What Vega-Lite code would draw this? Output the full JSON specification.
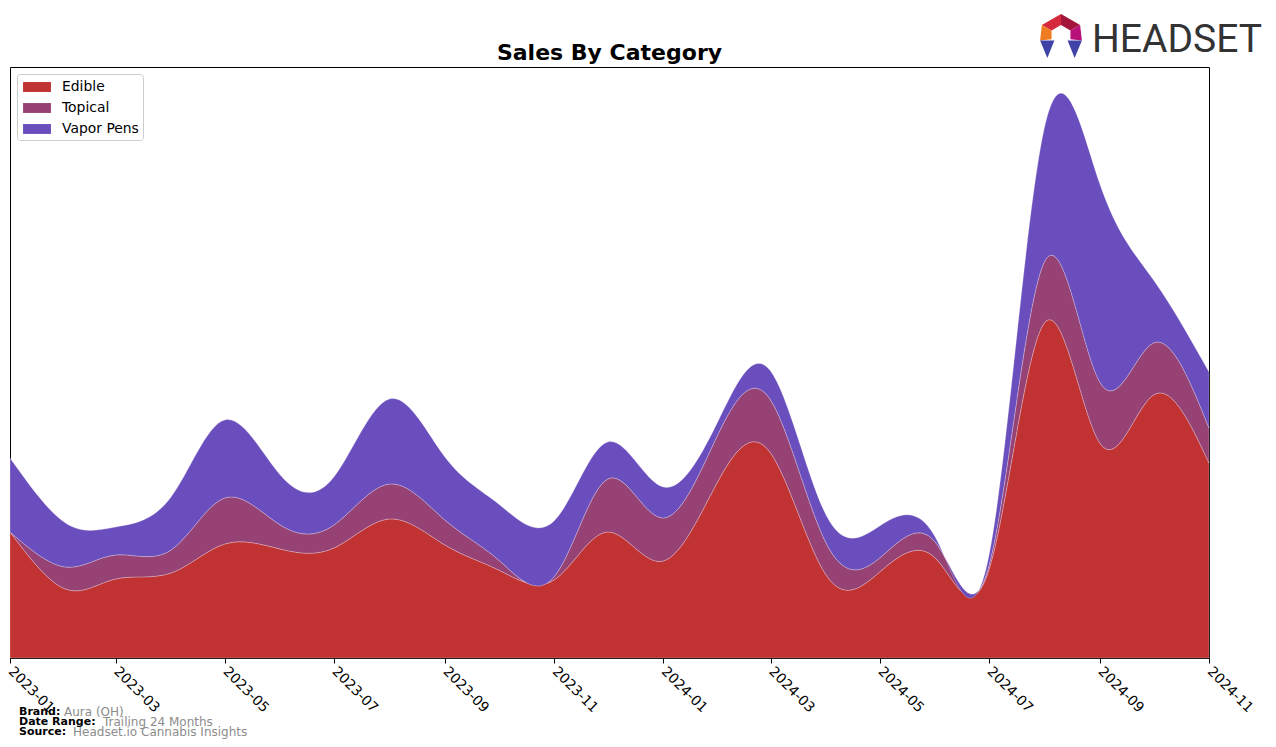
{
  "$schema": "https://vega.github.io/schema/vega-lite/v6.json",
  "width": 1199,
  "height": 591,
  "autosize": {"type": "none"},
  "padding": {"left": 10, "top": 67, "right": 67, "bottom": 89},
  "background": "white",
  "config": {"font": "DejaVu Sans", "view": {"stroke": "black", "strokeWidth": 1}},
  "title": {"text": "Sales By Category", "fontSize": 22, "fontWeight": "bold", "font": "DejaVu Sans", "color": "black", "anchor": "middle", "offset": 5, "dy": 56},
  "layer": [
    {
      "data": {"values": [
        {"date": "2023-01-01", "category": "Edible", "sales": 126},
        {"date": "2023-02-01", "category": "Edible", "sales": 69},
        {"date": "2023-03-01", "category": "Edible", "sales": 79},
        {"date": "2023-04-01", "category": "Edible", "sales": 85},
        {"date": "2023-05-01", "category": "Edible", "sales": 114},
        {"date": "2023-06-01", "category": "Edible", "sales": 109},
        {"date": "2023-07-01", "category": "Edible", "sales": 110},
        {"date": "2023-08-01", "category": "Edible", "sales": 139},
        {"date": "2023-09-01", "category": "Edible", "sales": 113},
        {"date": "2023-10-01", "category": "Edible", "sales": 88},
        {"date": "2023-11-01", "category": "Edible", "sales": 78},
        {"date": "2023-12-01", "category": "Edible", "sales": 126},
        {"date": "2024-01-01", "category": "Edible", "sales": 97},
        {"date": "2024-02-01", "category": "Edible", "sales": 178},
        {"date": "2024-03-01", "category": "Edible", "sales": 205},
        {"date": "2024-04-01", "category": "Edible", "sales": 83},
        {"date": "2024-05-01", "category": "Edible", "sales": 86},
        {"date": "2024-06-01", "category": "Edible", "sales": 100},
        {"date": "2024-07-01", "category": "Edible", "sales": 88},
        {"date": "2024-08-01", "category": "Edible", "sales": 335},
        {"date": "2024-09-01", "category": "Edible", "sales": 215},
        {"date": "2024-10-01", "category": "Edible", "sales": 263},
        {"date": "2024-11-01", "category": "Edible", "sales": 195},
        {"date": "2023-01-01", "category": "Topical", "sales": 0},
        {"date": "2023-02-01", "category": "Topical", "sales": 22},
        {"date": "2023-03-01", "category": "Topical", "sales": 24},
        {"date": "2023-04-01", "category": "Topical", "sales": 23},
        {"date": "2023-05-01", "category": "Topical", "sales": 46},
        {"date": "2023-06-01", "category": "Topical", "sales": 24},
        {"date": "2023-07-01", "category": "Topical", "sales": 23},
        {"date": "2023-08-01", "category": "Topical", "sales": 35},
        {"date": "2023-09-01", "category": "Topical", "sales": 25},
        {"date": "2023-10-01", "category": "Topical", "sales": 10},
        {"date": "2023-11-01", "category": "Topical", "sales": 3},
        {"date": "2023-12-01", "category": "Topical", "sales": 53},
        {"date": "2024-01-01", "category": "Topical", "sales": 43},
        {"date": "2024-02-01", "category": "Topical", "sales": 47},
        {"date": "2024-03-01", "category": "Topical", "sales": 53},
        {"date": "2024-04-01", "category": "Topical", "sales": 32},
        {"date": "2024-05-01", "category": "Topical", "sales": 14},
        {"date": "2024-06-01", "category": "Topical", "sales": 16},
        {"date": "2024-07-01", "category": "Topical", "sales": 4},
        {"date": "2024-08-01", "category": "Topical", "sales": 61},
        {"date": "2024-09-01", "category": "Topical", "sales": 61},
        {"date": "2024-10-01", "category": "Topical", "sales": 52},
        {"date": "2024-11-01", "category": "Topical", "sales": 35},
        {"date": "2023-01-01", "category": "Vapor Pens", "sales": 74},
        {"date": "2023-02-01", "category": "Vapor Pens", "sales": 44},
        {"date": "2023-03-01", "category": "Vapor Pens", "sales": 28},
        {"date": "2023-04-01", "category": "Vapor Pens", "sales": 53},
        {"date": "2023-05-01", "category": "Vapor Pens", "sales": 78},
        {"date": "2023-06-01", "category": "Vapor Pens", "sales": 50},
        {"date": "2023-07-01", "category": "Vapor Pens", "sales": 48},
        {"date": "2023-08-01", "category": "Vapor Pens", "sales": 85},
        {"date": "2023-09-01", "category": "Vapor Pens", "sales": 63},
        {"date": "2023-10-01", "category": "Vapor Pens", "sales": 56},
        {"date": "2023-11-01", "category": "Vapor Pens", "sales": 56},
        {"date": "2023-12-01", "category": "Vapor Pens", "sales": 37},
        {"date": "2024-01-01", "category": "Vapor Pens", "sales": 31},
        {"date": "2024-02-01", "category": "Vapor Pens", "sales": 13},
        {"date": "2024-03-01", "category": "Vapor Pens", "sales": 29},
        {"date": "2024-04-01", "category": "Vapor Pens", "sales": 28},
        {"date": "2024-05-01", "category": "Vapor Pens", "sales": 32},
        {"date": "2024-06-01", "category": "Vapor Pens", "sales": 5},
        {"date": "2024-07-01", "category": "Vapor Pens", "sales": 10},
        {"date": "2024-08-01", "category": "Vapor Pens", "sales": 134},
        {"date": "2024-09-01", "category": "Vapor Pens", "sales": 198},
        {"date": "2024-10-01", "category": "Vapor Pens", "sales": 63},
        {"date": "2024-11-01", "category": "Vapor Pens", "sales": 56}
      ]},
      "mark": {"type": "area", "interpolate": "natural", "stroke": "#ffffff", "strokeWidth": 0.7, "strokeOpacity": 0.35, "opacity": 1},
      "encoding": {
        "x": {
          "field": "date", "type": "temporal",
          "scale": {"type": "utc", "domain": [{"year": 2023, "month": 1, "date": 1, "utc": true}, {"year": 2024, "month": 11, "date": 1, "utc": true}]},
          "axis": {
            "title": null, "labelExpr": "utcFormat(datum.value, '%Y-%m')",
            "values": [
              {"year": 2023, "month": 1, "date": 1, "utc": true},
              {"year": 2023, "month": 3, "date": 1, "utc": true},
              {"year": 2023, "month": 5, "date": 1, "utc": true},
              {"year": 2023, "month": 7, "date": 1, "utc": true},
              {"year": 2023, "month": 9, "date": 1, "utc": true},
              {"year": 2023, "month": 11, "date": 1, "utc": true},
              {"year": 2024, "month": 1, "date": 1, "utc": true},
              {"year": 2024, "month": 3, "date": 1, "utc": true},
              {"year": 2024, "month": 5, "date": 1, "utc": true},
              {"year": 2024, "month": 7, "date": 1, "utc": true},
              {"year": 2024, "month": 9, "date": 1, "utc": true},
              {"year": 2024, "month": 11, "date": 1, "utc": true}
            ],
            "labelAngle": 45, "labelAlign": "left", "labelBaseline": "middle", "labelPadding": 6,
            "labelFont": "DejaVu Sans", "labelFontSize": 13.9, "labelColor": "black",
            "labelOverlap": false, "labelBound": false, "labelFlush": false,
            "domainColor": "black", "tickColor": "black", "tickSize": 5, "grid": false
          }
        },
        "y": {"field": "sales", "type": "quantitative", "stack": "zero", "scale": {"domain": [0, 591]}, "axis": null},
        "order": {"field": "category", "sort": "ascending"},
        "color": {
          "field": "category", "type": "nominal",
          "scale": {"domain": ["Edible", "Topical", "Vapor Pens"], "range": ["#C13333", "#974275", "#6A4EBD"]},
          "legend": {
            "title": null, "orient": "top-left", "offset": 7, "fillColor": "white", "strokeColor": "#cccccc",
            "cornerRadius": 3, "padding": 4, "labelFont": "DejaVu Sans", "labelFontSize": 13.9, "labelColor": "black",
            "symbolType": "M-1.55,-0.55H1.55V0.55H-1.55Z", "symbolSize": 324, "symbolStrokeWidth": 0, "symbolOpacity": 1,
            "symbolOffset": 7, "labelOffset": 16, "rowPadding": 5
          }
        }
      }
    },
    {"data": {"values": [{}]}, "mark": {"type": "text", "text": "Brand:", "fontWeight": "bold", "fontSize": 11, "font": "DejaVu Sans", "color": "black", "align": "left", "baseline": "middle"}, "encoding": {"x": {"value": 9}, "y": {"value": 645}}},
    {"data": {"values": [{}]}, "mark": {"type": "text", "text": "Aura (OH)", "fontSize": 12, "font": "DejaVu Sans", "color": "#8c8c8c", "align": "left", "baseline": "middle"}, "encoding": {"x": {"value": 54}, "y": {"value": 645}}},
    {"data": {"values": [{}]}, "mark": {"type": "text", "text": "Date Range:", "fontWeight": "bold", "fontSize": 11, "font": "DejaVu Sans", "color": "black", "align": "left", "baseline": "middle"}, "encoding": {"x": {"value": 9}, "y": {"value": 655}}},
    {"data": {"values": [{}]}, "mark": {"type": "text", "text": "Trailing 24 Months", "fontSize": 12, "font": "DejaVu Sans", "color": "#8c8c8c", "align": "left", "baseline": "middle"}, "encoding": {"x": {"value": 93}, "y": {"value": 655}}},
    {"data": {"values": [{}]}, "mark": {"type": "text", "text": "Source:", "fontWeight": "bold", "fontSize": 11, "font": "DejaVu Sans", "color": "black", "align": "left", "baseline": "middle"}, "encoding": {"x": {"value": 9}, "y": {"value": 665}}},
    {"data": {"values": [{}]}, "mark": {"type": "text", "text": "Headset.io Cannabis Insights", "fontSize": 12, "font": "DejaVu Sans", "color": "#8c8c8c", "align": "left", "baseline": "middle"}, "encoding": {"x": {"value": 63}, "y": {"value": 665}}},
    {"data": {"values": [{}]}, "mark": {"type": "text", "text": "HEADSET", "fontSize": 39, "font": "Roboto", "color": "#333333", "align": "left", "baseline": "alphabetic"}, "encoding": {"x": {"value": 1082}, "y": {"value": -15}}},
    {"data": {"values": [{}]}, "mark": {"type": "point", "shape": "M0,-1L-0.87,-0.5L-0.43,-0.25L0,-0.5Z", "filled": true, "fill": "#D42A3C", "opacity": 1, "strokeWidth": 0, "size": 1936}, "encoding": {"x": {"value": 1051}, "y": {"value": -31}}},
    {"data": {"values": [{}]}, "mark": {"type": "point", "shape": "M0,-1L0.87,-0.5L0.43,-0.25L0,-0.5Z", "filled": true, "fill": "#A3153A", "opacity": 1, "strokeWidth": 0, "size": 1936}, "encoding": {"x": {"value": 1051}, "y": {"value": -31}}},
    {"data": {"values": [{}]}, "mark": {"type": "point", "shape": "M-0.87,-0.5L-0.95,0.2L-0.43,0.15L-0.43,-0.25Z", "filled": true, "fill": "#F07C22", "opacity": 1, "strokeWidth": 0, "size": 1936}, "encoding": {"x": {"value": 1051}, "y": {"value": -31}}},
    {"data": {"values": [{}]}, "mark": {"type": "point", "shape": "M0.87,-0.5L0.95,0.2L0.43,0.15L0.43,-0.25Z", "filled": true, "fill": "#B8127A", "opacity": 1, "strokeWidth": 0, "size": 1936}, "encoding": {"x": {"value": 1051}, "y": {"value": -31}}},
    {"data": {"values": [{}]}, "mark": {"type": "point", "shape": "M-0.95,0.2L-0.3,0.2L-0.62,1Z", "filled": true, "fill": "#3F43A8", "opacity": 1, "strokeWidth": 0, "size": 1936}, "encoding": {"x": {"value": 1051}, "y": {"value": -31}}},
    {"data": {"values": [{}]}, "mark": {"type": "point", "shape": "M0.95,0.2L0.3,0.2L0.62,1Z", "filled": true, "fill": "#3F43A8", "opacity": 1, "strokeWidth": 0, "size": 1936}, "encoding": {"x": {"value": 1051}, "y": {"value": -31}}}
  ]
}
